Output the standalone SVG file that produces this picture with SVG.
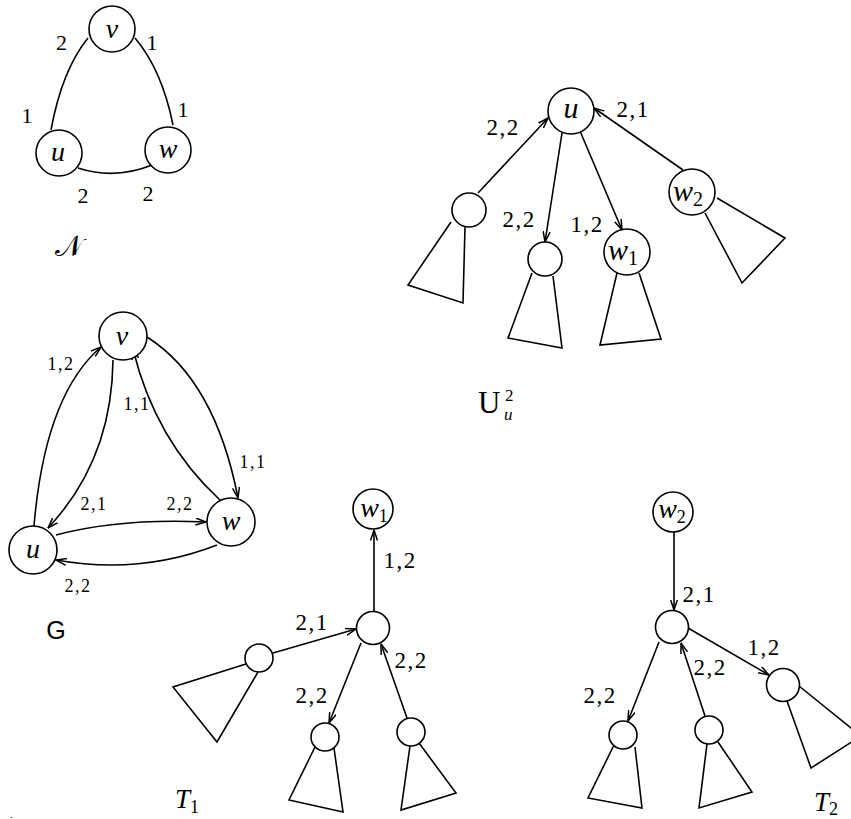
<svg xmlns="http://www.w3.org/2000/svg" width="851" height="819" viewBox="0 0 851 819">
<style>
.n{fill:#fff;stroke:#000;stroke-width:1.6}
.tri{fill:none;stroke:#000;stroke-width:1.6;stroke-linejoin:miter}
.e{fill:none;stroke:#000;stroke-width:1.6}
.a{marker-end:url(#arr)}
.lb{font-family:"Liberation Serif",serif;font-size:23px;letter-spacing:1.5px;text-anchor:middle}
.lbn{font-family:"Liberation Serif",serif;font-size:22px;text-anchor:middle}
.lbs{font-family:"Liberation Serif",serif;font-size:18px;letter-spacing:1.5px;text-anchor:middle}
.v{font-family:"Liberation Serif",serif;font-style:italic;font-size:30px;text-anchor:middle}
.sub{font-style:normal;font-size:20px}
</style>
<defs>
<marker id="arr" viewBox="0 0 11 8" refX="10.5" refY="4" markerWidth="11" markerHeight="8" orient="auto" markerUnits="userSpaceOnUse">
<path d="M0,0.5 L10.5,4 L0,7.5" fill="none" stroke="#000" stroke-width="1.5"/>
</marker>
</defs>
<rect width="851" height="819" fill="#fff"/>

<!-- Connectors -->
<g id="connectors">
  <!-- N -->
  <path class="e" d="M88,38 Q62,70 51,130"/>
  <path class="e" d="M135,38 Q162,70 173,125"/>
  <path class="e" d="M78,168 Q115,180 152,165"/>
  <text class="lbn" x="61.5" y="50">2</text>
  <text class="lbn" x="152" y="50">1</text>
  <text class="lbn" x="27" y="123">1</text>
  <text class="lbn" x="183" y="117">1</text>
  <text class="lbn" x="83" y="203">2</text>
  <text class="lbn" x="148" y="201">2</text>

  <!-- U tree -->
  <path class="e a" d="M478,193 L548,118"/>
  <path class="e a" d="M562,133 L545,242"/>
  <path class="e a" d="M580,131 L622,230"/>
  <path class="e a" d="M683,170 L594,108"/>
  <text class="lb" x="503" y="135">2,2</text>
  <text class="lb" x="633" y="117">2,1</text>
  <text class="lb" x="519" y="227">2,2</text>
  <text class="lb" x="587" y="232">1,2</text>

  <!-- G -->
  <path class="e a" d="M34,526 Q45,395 101,347"/>
  <path class="e a" d="M113,360 Q112,460 48,528"/>
  <path class="e a" d="M220,500 Q155,440 133,349"/>
  <path class="e a" d="M147,337 Q215,380 238,498"/>
  <path class="e a" d="M56,535 Q120,518 206,522"/>
  <path class="e a" d="M217,545 Q140,575 56,560"/>
  <text class="lbs" x="61" y="370">1,2</text>
  <text class="lbs" x="137" y="410">1,1</text>
  <text class="lbs" x="253" y="468">1,1</text>
  <text class="lbs" x="94" y="510">2,1</text>
  <text class="lbs" x="180" y="510">2,2</text>
  <text class="lbs" x="78" y="592">2,2</text>

  <!-- T1 -->
  <path class="e a" d="M374,611 L374,530"/>
  <path class="e a" d="M273,653 L356,629"/>
  <path class="e a" d="M361,643 L329,723"/>
  <path class="e a" d="M407,718 L381,644"/>
  <text class="lb" x="312" y="630">2,1</text>
  <text class="lb" x="400" y="568">1,2</text>
  <text class="lb" x="411" y="668">2,2</text>
  <text class="lb" x="312" y="703">2,2</text>

  <!-- T2 -->
  <path class="e a" d="M674,532 L674,610"/>
  <path class="e a" d="M659,642 L628,721"/>
  <path class="e a" d="M705,716 L681,643"/>
  <path class="e a" d="M688,628 L769,675"/>
  <text class="lb" x="699" y="602">2,1</text>
  <text class="lb" x="764" y="655">1,2</text>
  <text class="lb" x="710" y="675">2,2</text>
  <text class="lb" x="600" y="703">2,2</text>
</g>

<!-- N graph nodes -->
<g id="N-v"><circle class="n" cx="112" cy="29" r="23"/><text class="v" style="font-size:28px" x="112" y="38">v</text></g>
<g id="N-u"><circle class="n" cx="59" cy="153" r="23"/><text class="v" style="font-size:28px" x="58" y="161">u</text></g>
<g id="N-w"><circle class="n" cx="168" cy="150" r="23"/><text class="v" style="font-size:28px" x="168" y="158">w</text></g>
<text id="N-label" x="69" y="256" style="font-family:'DejaVu Serif','DejaVu Sans',serif;font-size:29px;text-anchor:middle">𝒩</text>

<!-- U tree nodes -->
<g id="U-u"><circle class="n" cx="571" cy="111" r="23"/><text class="v" x="571" y="118">u</text></g>
<g id="U-left"><circle class="n" cx="469" cy="210" r="17"/><path class="tri" d="M451,222 L408,285 L463,303 L465,227"/></g>
<g id="U-mid"><circle class="n" cx="545" cy="259" r="17"/><path class="tri" d="M532,273 L508,338 L562,348 L553,276"/></g>
<g id="U-w1"><circle class="n" cx="627" cy="252" r="23"/><path class="tri" d="M617,273 L600,345 L661,339 L639,273"/><text class="v" x="623" y="260">w<tspan class="sub" dy="5">1</tspan></text></g>
<g id="U-w2"><circle class="n" cx="692" cy="192" r="23"/><path class="tri" d="M717,198 L785,238 L742,283 L705,213"/><text class="v" x="688" y="201">w<tspan class="sub" dy="5">2</tspan></text></g>
<text id="U-label" x="478" y="413" style="font-family:'Liberation Serif',serif;font-size:31px">U<tspan style="font-size:17px" x="505" y="401">2</tspan><tspan style="font-size:17px;font-style:italic" x="504" y="420">u</tspan></text>

<!-- G nodes -->
<g id="G-v"><circle class="n" cx="123" cy="336" r="24"/><text class="v" style="font-size:28px" x="122" y="345">v</text></g>
<g id="G-u"><circle class="n" cx="33" cy="550" r="24"/><text class="v" style="font-size:28px" x="33" y="558">u</text></g>
<g id="G-w"><circle class="n" cx="231" cy="522" r="24"/><text class="v" style="font-size:28px" x="231" y="530">w</text></g>
<text id="G-label" x="56" y="639" style="font-family:'Liberation Sans',sans-serif;font-size:25px;text-anchor:middle">G</text>

<!-- T1 nodes -->
<g id="T1-w1"><circle class="n" cx="373" cy="509" r="20"/><text class="v" style="font-size:28px" x="374" y="517">w<tspan class="sub" style="font-size:18px" dy="5">1</tspan></text></g>
<g id="T1-root"><circle class="n" cx="373" cy="628" r="16.5"/></g>
<g id="T1-left"><circle class="n" cx="259" cy="658" r="14"/><path class="tri" d="M246,664 L173,687 L217,742 L258,672"/></g>
<g id="T1-bl"><circle class="n" cx="325" cy="737" r="14"/><path class="tri" d="M315,747 L289,800 L343,812 L334,748"/></g>
<g id="T1-br"><circle class="n" cx="411" cy="732" r="14"/><path class="tri" d="M410,746 L401,810 L456,793 L419,743"/></g>
<text id="T1-label" x="175" y="808" style="font-family:'Liberation Serif',serif;font-style:italic;font-size:27px">T<tspan style="font-style:normal;font-size:18px" dy="5">1</tspan></text>

<!-- T2 nodes -->
<g id="T2-w2"><circle class="n" cx="673" cy="512" r="20"/><text class="v" style="font-size:28px" x="672" y="518">w<tspan class="sub" style="font-size:18px" dy="5">2</tspan></text></g>
<g id="T2-root"><circle class="n" cx="672" cy="627" r="16.5"/></g>
<g id="T2-right"><circle class="n" cx="783" cy="685" r="16.5"/><path class="tri" d="M787,701 L811,768 L861,736 L799,686"/></g>
<g id="T2-bl"><circle class="n" cx="623" cy="735" r="14"/><path class="tri" d="M614,745 L588,798 L642,808 L635,747"/></g>
<g id="T2-bm"><circle class="n" cx="709" cy="730" r="14"/><path class="tri" d="M707,744 L699,808 L752,792 L718,742"/></g>
<text id="T2-label" x="814" y="811" style="font-family:'Liberation Serif',serif;font-style:italic;font-size:27px">T<tspan style="font-style:normal;font-size:18px" dy="4">2</tspan></text>

<text x="10" y="818" style="font-family:'Liberation Serif',serif;font-size:10px">.</text>
</svg>
